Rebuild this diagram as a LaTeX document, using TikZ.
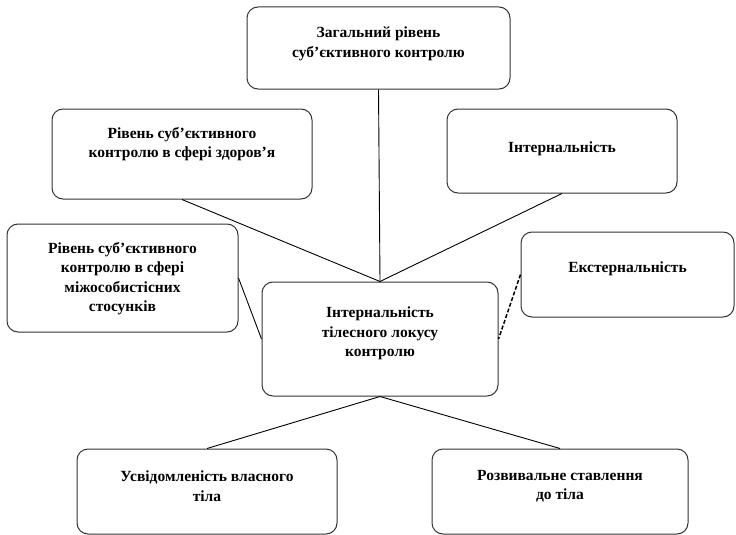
\documentclass[tikz,border=0pt]{standalone}
\usepackage{fontspec}
\setmainfont{Liberation Serif}
\usepackage{tikz}
\definecolor{boxline}{rgb}{0.2,0.2,0.2}
\tikzset{
  block/.style={draw=boxline,line width=1pt,rounded corners=11pt,inner sep=0pt,
    font=\fontsize{15.5}{19.5}\selectfont\bfseries},
  link/.style={draw=black,line width=0.9pt},
  dashlink/.style={draw=black,line width=1.5pt,dash pattern=on 4pt off 2pt}
}
%% box of given width, height, text offset from top
\newcommand{\blockbody}[4]{\parbox[c][#2][t]{#1}{\centering\vspace*{#3}#4\par}}

\begin{document}
\begin{tikzpicture}[x=1pt,y=-1pt]
      \useasboundingbox (0,0) rectangle (736,535);
      \node[block] (general) at (378.5,48) {\blockbody{263pt}{82pt}{20pt}{Загальний рівень\\суб’єктивного контролю}};
      \node[block] (health) at (182,154) {\blockbody{260pt}{90pt}{18pt}{Рівень суб’єктивного\\контролю в сфері здоров’я}};
      \node[block] (internal) at (562,151) {\blockbody{230pt}{84pt}{33pt}{Інтернальність}};
      \node[block] (personal) at (122.5,278) {\blockbody{231pt}{108pt}{18pt}{Рівень суб’єктивного\\контролю в сфері\\міжособистісних\\стосунків}};
      \node[block] (external) at (627.5,274.5) {\blockbody{213pt}{85pt}{30pt}{Екстернальність}};
      \node[block] (central) at (380,339) {\blockbody{236pt}{114pt}{25pt}{Інтернальність\\тілесного локусу\\контролю}};
      \node[block] (aware) at (207,491.5) {\blockbody{260pt}{85pt}{22pt}{Усвідомленість власного\\тіла}};
      \node[block] (attitude) at (560,491.5) {\blockbody{256pt}{85pt}{21pt}{Розвивальне ставлення\\до тіла}};
      %% links to the centre
      \draw[link] (general.south) -- (central.north);
      \draw[link] (health.south) -- (central.north);
      \draw[link] (internal.south) -- (central.north);
      \draw[link] (personal.east) -- (central.west);
      \draw[dashlink] (external.west) -- (central.east);
      \draw[link] (central.south) -- (aware.north);
      \draw[link] (central.south) -- (attitude.north);
\end{tikzpicture}
\end{document}
